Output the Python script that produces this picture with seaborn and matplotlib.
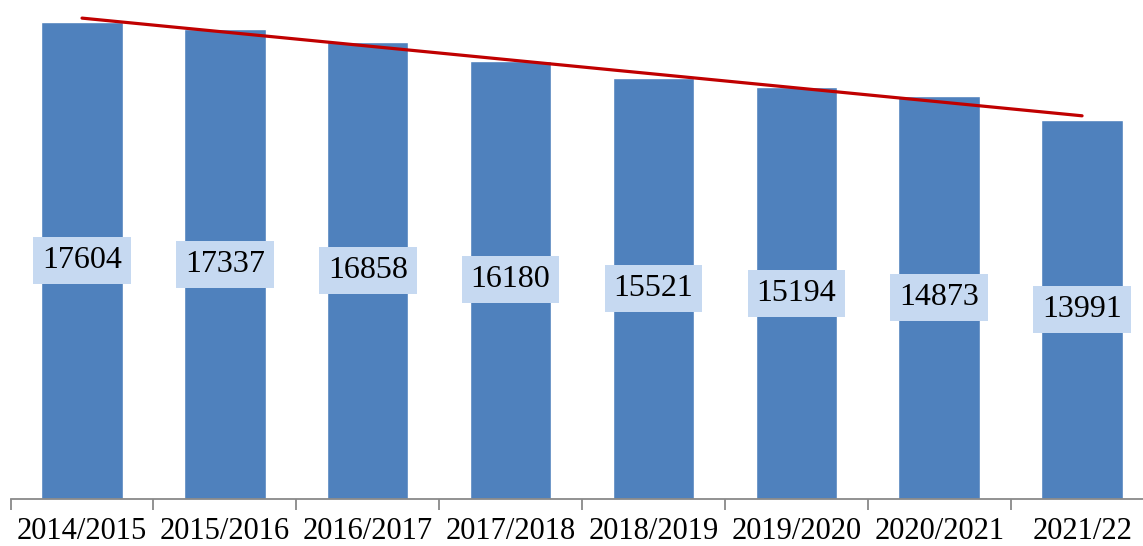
import numpy as np
import pandas as pd
import seaborn as sns
import matplotlib.pyplot as plt

# school years and pupil counts
years = ["2014/2015", "2015/2016", "2016/2017", "2017/2018",
         "2018/2019", "2019/2020", "2020/2021", "2021/22"]
counts = [17604, 17337, 16858, 16180, 15521, 15194, 14873, 13991]

data = pd.DataFrame({"rok": years, "pocet": counts})
data["poz"] = np.arange(len(data))

sns.set_style("white")
plt.rcParams["font.family"] = ["Liberation Serif", "DejaVu Serif"]

fig = plt.figure(figsize=(11.43, 5.46), dpi=100)
ax = fig.add_axes([10.6 / 1143, 1 - 499 / 546, 1142.9 / 1143, 499 / 546])

sns.barplot(data=data, x="rok", y="pocet", color="#4f81bd", saturation=1,
            width=0.57, ax=ax)

# linearni trend
sns.regplot(data=data, x="poz", y="pocet", scatter=False, ci=None,
            color="#c00000", line_kws=dict(lw=2.3), ax=ax)

# popisky uprostred sloupcu
for i, v in enumerate(counts):
    ax.text(i, v / 2, str(v), ha="center", va="center", fontsize=23,
            color="black",
            bbox=dict(boxstyle="square,pad=0.28", fc="#c6d9f1", ec="none"))

ax.set_xlim(-0.5, 7.5)
ax.set_ylim(0, 18416)
ax.set_xlabel("")
ax.set_ylabel("")
ax.set_yticks([])

ax.set_xticks(range(len(years)))
ax.set_xticklabels(years, fontsize=22, color="black")
ax.set_xticks(np.arange(-0.5, 7.6, 1), minor=True)
ax.tick_params(axis="x", which="major", length=0, pad=13)
ax.tick_params(axis="x", which="minor", length=8, width=1.3,
               color="#898989", direction="out", bottom=True)

for s in ["left", "top", "right"]:
    ax.spines[s].set_visible(False)
ax.spines["bottom"].set_color("#898989")
ax.spines["bottom"].set_linewidth(1.3)

plt.savefig("out.png", dpi=100)
